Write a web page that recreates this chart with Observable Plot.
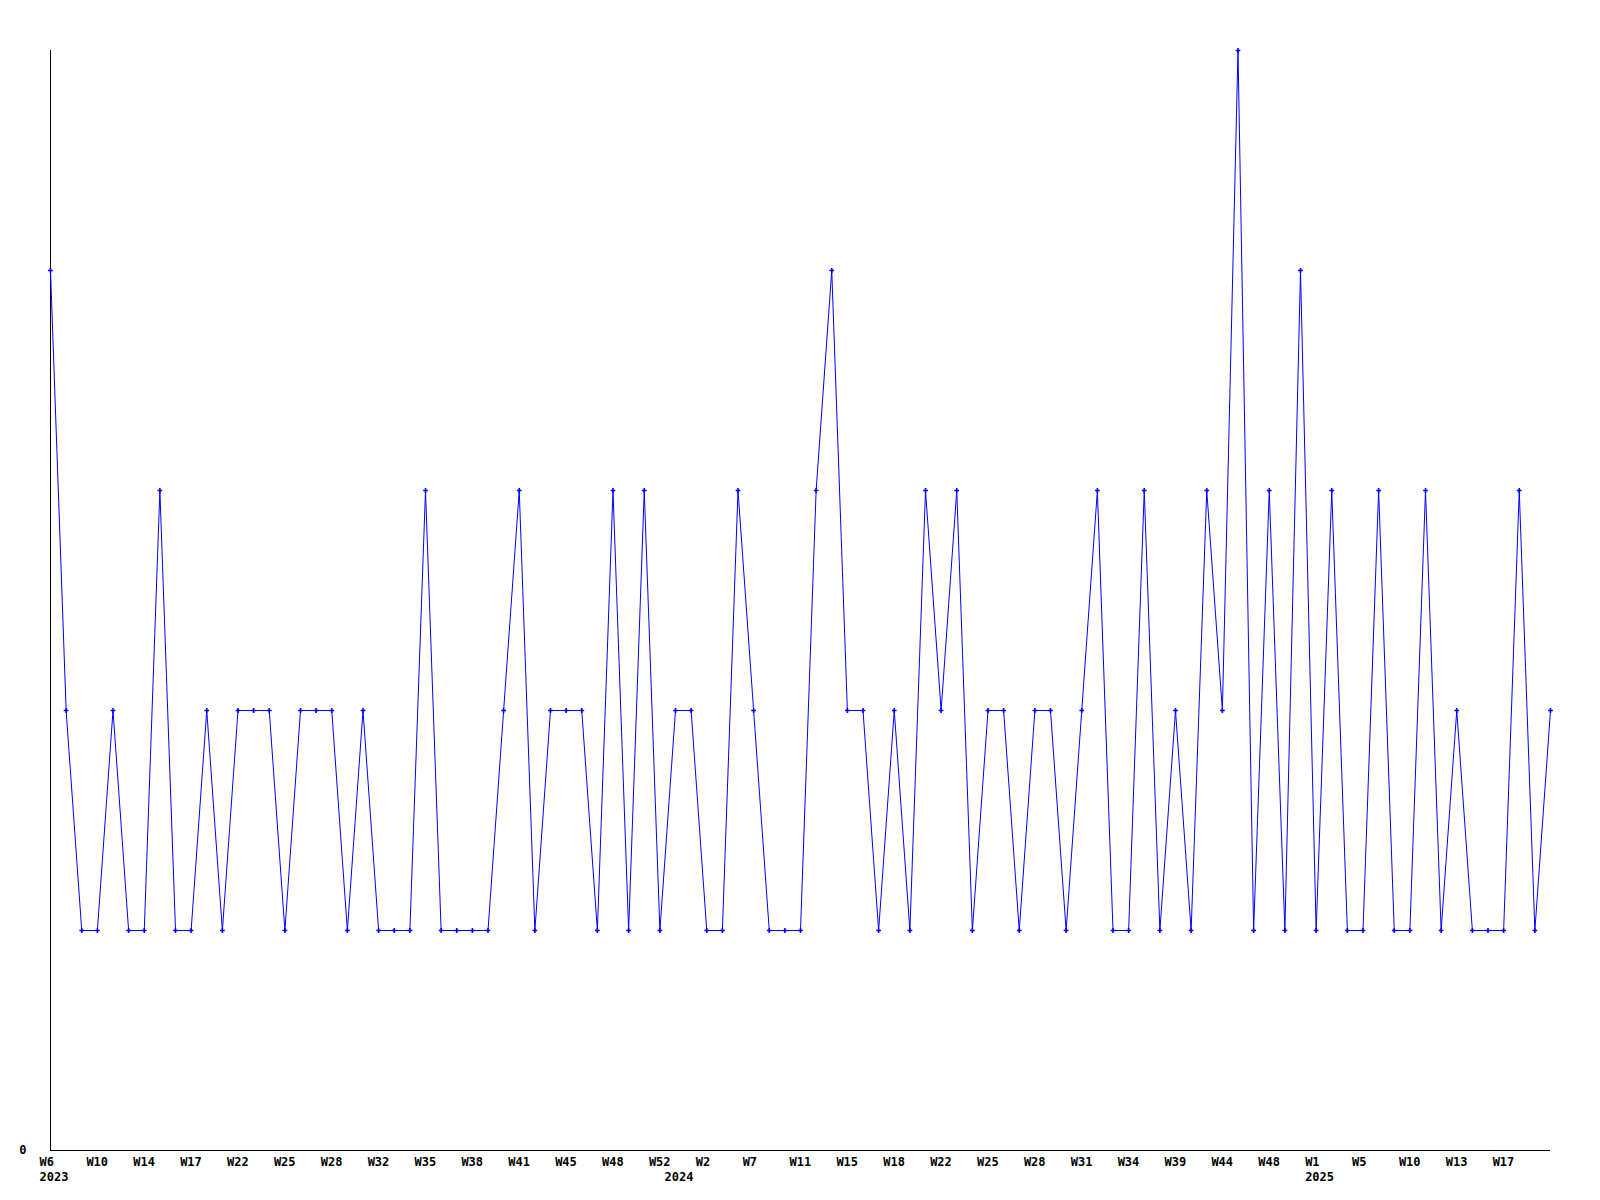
<!DOCTYPE html>
<html>
<head>
<meta charset="utf-8">
<script src="https://cdn.jsdelivr.net/npm/d3@7"></script>
<script src="https://cdn.jsdelivr.net/npm/@observablehq/plot@0.6"></script>
<style>
  html, body { margin: 0; padding: 0; background: #ffffff; }
  #chart { width: 1600px; height: 1200px; }
</style>
</head>
<body>
<div id="chart"></div>
<script>
// Weekly values (one point per entry, in order)
const values = [
  4,2,1,1,2,1,1,3,1,1,
  2,1,2,2,2,1,2,2,2,1,
  2,1,1,1,3,1,1,1,1,2,
  3,1,2,2,2,1,3,1,3,1,
  2,2,1,1,3,2,1,1,1,3,
  4,2,2,1,2,1,3,2,3,1,
  2,2,1,2,2,1,2,3,1,1,
  3,1,2,1,3,2,5,1,3,1,
  4,1,3,1,1,3,1,1,3,1,
  2,1,1,1,3,1,2
];

// Week tick labels (every third entry)
const weekLabels = ["W6","W10","W14","W17","W22","W25","W28","W32","W35","W38","W41",
  "W45","W48","W52","W2","W7","W11","W15","W18","W22","W25","W28","W31","W34",
  "W39","W44","W48","W1","W5","W10","W13","W17"];

// Year labels and the entry index where each year starts
const yearLabels = ["2023","2024","2025"];
const yearStarts = [0, 40, 81];

const data = values.map((v, i) => ({i, v}));
const weekTicks = weekLabels.map((_, k) => k * 3);

const chart = Plot.plot({
  width: 1600,
  height: 1200,
  marginTop: 50,
  marginBottom: 50,
  marginLeft: 50,
  marginRight: 50,
  style: {fontFamily: "'DejaVu Sans Mono', monospace", fontSize: "12px", fontWeight: "bold", background: "#ffffff", color: "#000000"},
  x: {type: "linear", domain: [0, values.length - 1]},
  y: {type: "linear", domain: [0, 5]},
  marks: [
    Plot.axisX({ticks: weekTicks, tickFormat: i => weekLabels[Math.round(i / 3)], tickSize: 0, tickPadding: 7, textAnchor: "start", dx: -11, label: null}),
    Plot.axisX({ticks: yearStarts, tickFormat: i => yearLabels[yearStarts.indexOf(i)], tickSize: 0, tickPadding: 22, textAnchor: "start", dx: -11, label: null}),
    Plot.axisY({ticks: [0], tickFormat: d => String(d), tickSize: 0, tickPadding: 24, label: null}),
    Plot.ruleX([0], {stroke: "#000000", strokeWidth: 1}),
    Plot.ruleY([0], {stroke: "#000000", strokeWidth: 1}),
    Plot.line(data, {x: "i", y: "v", stroke: "#0000ff", strokeWidth: 1}),
    Plot.dot(data, {x: "i", y: "v", symbol: "cross", r: 2, fill: "#0000ff", stroke: "none"})
  ]
});
document.getElementById("chart").appendChild(chart);
</script>
</body>
</html>
